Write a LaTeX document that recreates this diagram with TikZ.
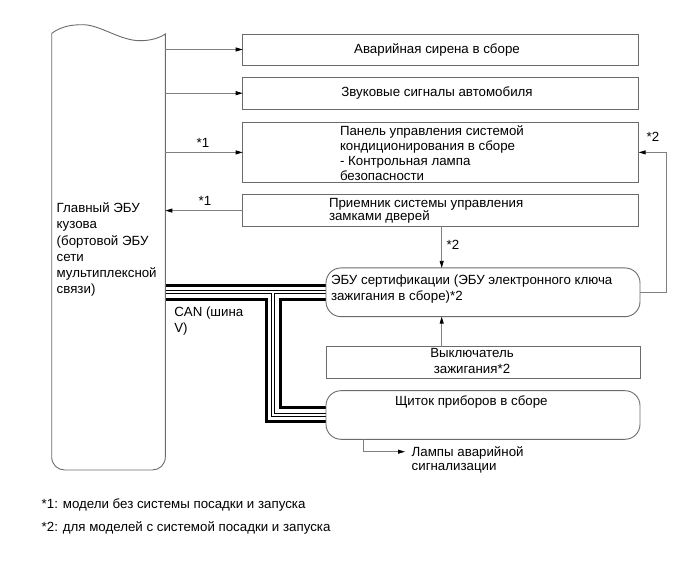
\documentclass[tikz,border=0pt]{standalone}
\usepackage{fontspec}
\setmainfont{Liberation Sans}
\usetikzlibrary{arrows.meta}
\definecolor{boxc}{gray}{0.42}
\definecolor{linec}{gray}{0.5}
\begin{document}
\begin{tikzpicture}[x=1pt,y=-1pt,
  every node/.style={inner sep=0pt, outer sep=0pt},
  txt/.style={font=\fontsize{13.3}{#1}\selectfont, align=left},
  txt/.default=14,
  boxr/.style={draw=boxc, line width=0.9pt},
  boxround/.style={draw=boxc, line width=0.9pt, rounded corners=15pt},
  arr/.style={draw=linec, line width=0.8pt, -{Triangle[length=7pt,width=4pt,color=black]}},
  wire/.style={draw=linec, line width=0.8pt}]
\useasboundingbox (0,0) rectangle (689,564);

% nodes (boxes)
\node[minimum width=113.6pt, minimum height=437pt] (main) at (108.5,251.5) {};
\node[boxr, minimum width=396pt, minimum height=31pt] (b1) at (440.7,49.5) {};
\node[boxr, minimum width=396pt, minimum height=31.7pt] (b2) at (440.7,93.2) {};
\node[boxr, minimum width=396pt, minimum height=59.3pt] (b3) at (440.7,152.4) {};
\node[boxr, minimum width=396pt, minimum height=31.8pt] (b4) at (440.7,210.6) {};
\node[minimum width=314pt, minimum height=48.7pt] (ecu) at (483,292.3) {};
\node[boxr, minimum width=313.3pt, minimum height=32.3pt] (sw) at (483.3,362.8) {};
\node[minimum width=314pt, minimum height=48.6pt] (dash) at (483,415) {};

% CAN bus (layered double wire)
\coordinate (bj) at (273,0);
\foreach \w/\c in {17/black, 11/white, 4/black, 2/white}{
  \draw[line width=\w pt, \c, line join=miter]
    (main.east |- ecu.west) -- (ecu.west)
    (bj |- ecu.west) -- (bj |- dash.west) -- (dash.west);
}

% outlines drawn over the bus ends
\draw[boxround] (ecu.south west) rectangle (ecu.north east);
\draw[boxround] (dash.south west) rectangle (dash.north east);
\draw[draw=boxc, line width=0.9pt]
  (51.7,33.3) .. controls (62,26) and (72,24.7) .. (83,24.7)
  .. controls (100,24.7) and (120,40.7) .. (140,40.7)
  .. controls (152,40.7) and (160,37.5) .. (165.3,34)
  -- (165.3,457) .. controls (165.3,464.5) and (159.5,470) .. (152.3,470)
  -- (64.7,470) .. controls (57.5,470) and (51.7,464.5) .. (51.7,457) -- cycle;

% texts
\node[txt=16.1, anchor=north west] (maint) at (56.7,203)
  {Главный ЭБУ\\кузова\\(бортовой ЭБУ\\сети\\мультиплексной\\связи)};
\node[txt, anchor=center] (t1) at (437,49.5) {Аварийная сирена в сборе};
\node[txt, anchor=center] (t2) at (437,93) {Звуковые сигналы автомобиля};
\node[txt=15, anchor=north west] (t3) at (340,125.5)
  {Панель управления системой\\кондиционирования в сборе\\- Контрольная лампа\\безопасности};
\node[txt=13.5, anchor=north west] (t4) at (329,198)
  {Приемник системы управления\\замками дверей};
\node[txt=16, anchor=north west] (tecu) at (331,274.5)
  {ЭБУ сертификации (ЭБУ электронного ключа\\зажигания в сборе)*2};
\node[txt=16.5, anchor=north, align=center] (tsw) at (472,348)
  {Выключатель\\зажигания*2};
\node[txt, anchor=north west] (tdash) at (395,396) {Щиток приборов в сборе};
\node[txt=14.5, anchor=north west] (tlamp) at (411.7,446.5)
  {Лампы аварийной\\сигнализации};
\node[txt=15.5, anchor=north west] (tcan) at (174.3,307)
  {CAN (шина\\V)};
\node[txt] (s1a) at (203,143) {*1};
\node[txt] (s1b) at (205,201) {*1};
\node[txt] (s2a) at (453,245) {*2};
\node[txt] (s2b) at (653,137) {*2};
\node[txt, anchor=west] (f1) at (41.7,505) {*1: модели без системы посадки и запуска};
\node[txt, anchor=west] (f2) at (41.7,528) {*2: для моделей с системой посадки и запуска};

% connectors
\draw[arr] (main.east |- b1.west) -- (b1.west);
\draw[arr] (main.east |- b2.west) -- (b2.west);
\draw[arr] (main.east |- b3.west) -- (b3.west);
\draw[arr] (b4.west) -- (main.east |- b4.west);
\coordinate (rc) at (666,0);
\draw[arr] (ecu.east) -- (rc |- ecu.east) -- (rc |- b3.east) -- (b3.east);
\coordinate (vx) at (441.7,0);
\draw[arr] (vx |- b4.south) -- (vx |- ecu.north);
\draw[arr] (vx |- sw.north) -- (vx |- ecu.south);
\coordinate (lx) at (363.3,0);
\coordinate (lampend) at (405,451.7);
\draw[arr] (lx |- dash.south) |- (lampend);
\end{tikzpicture}
\end{document}
